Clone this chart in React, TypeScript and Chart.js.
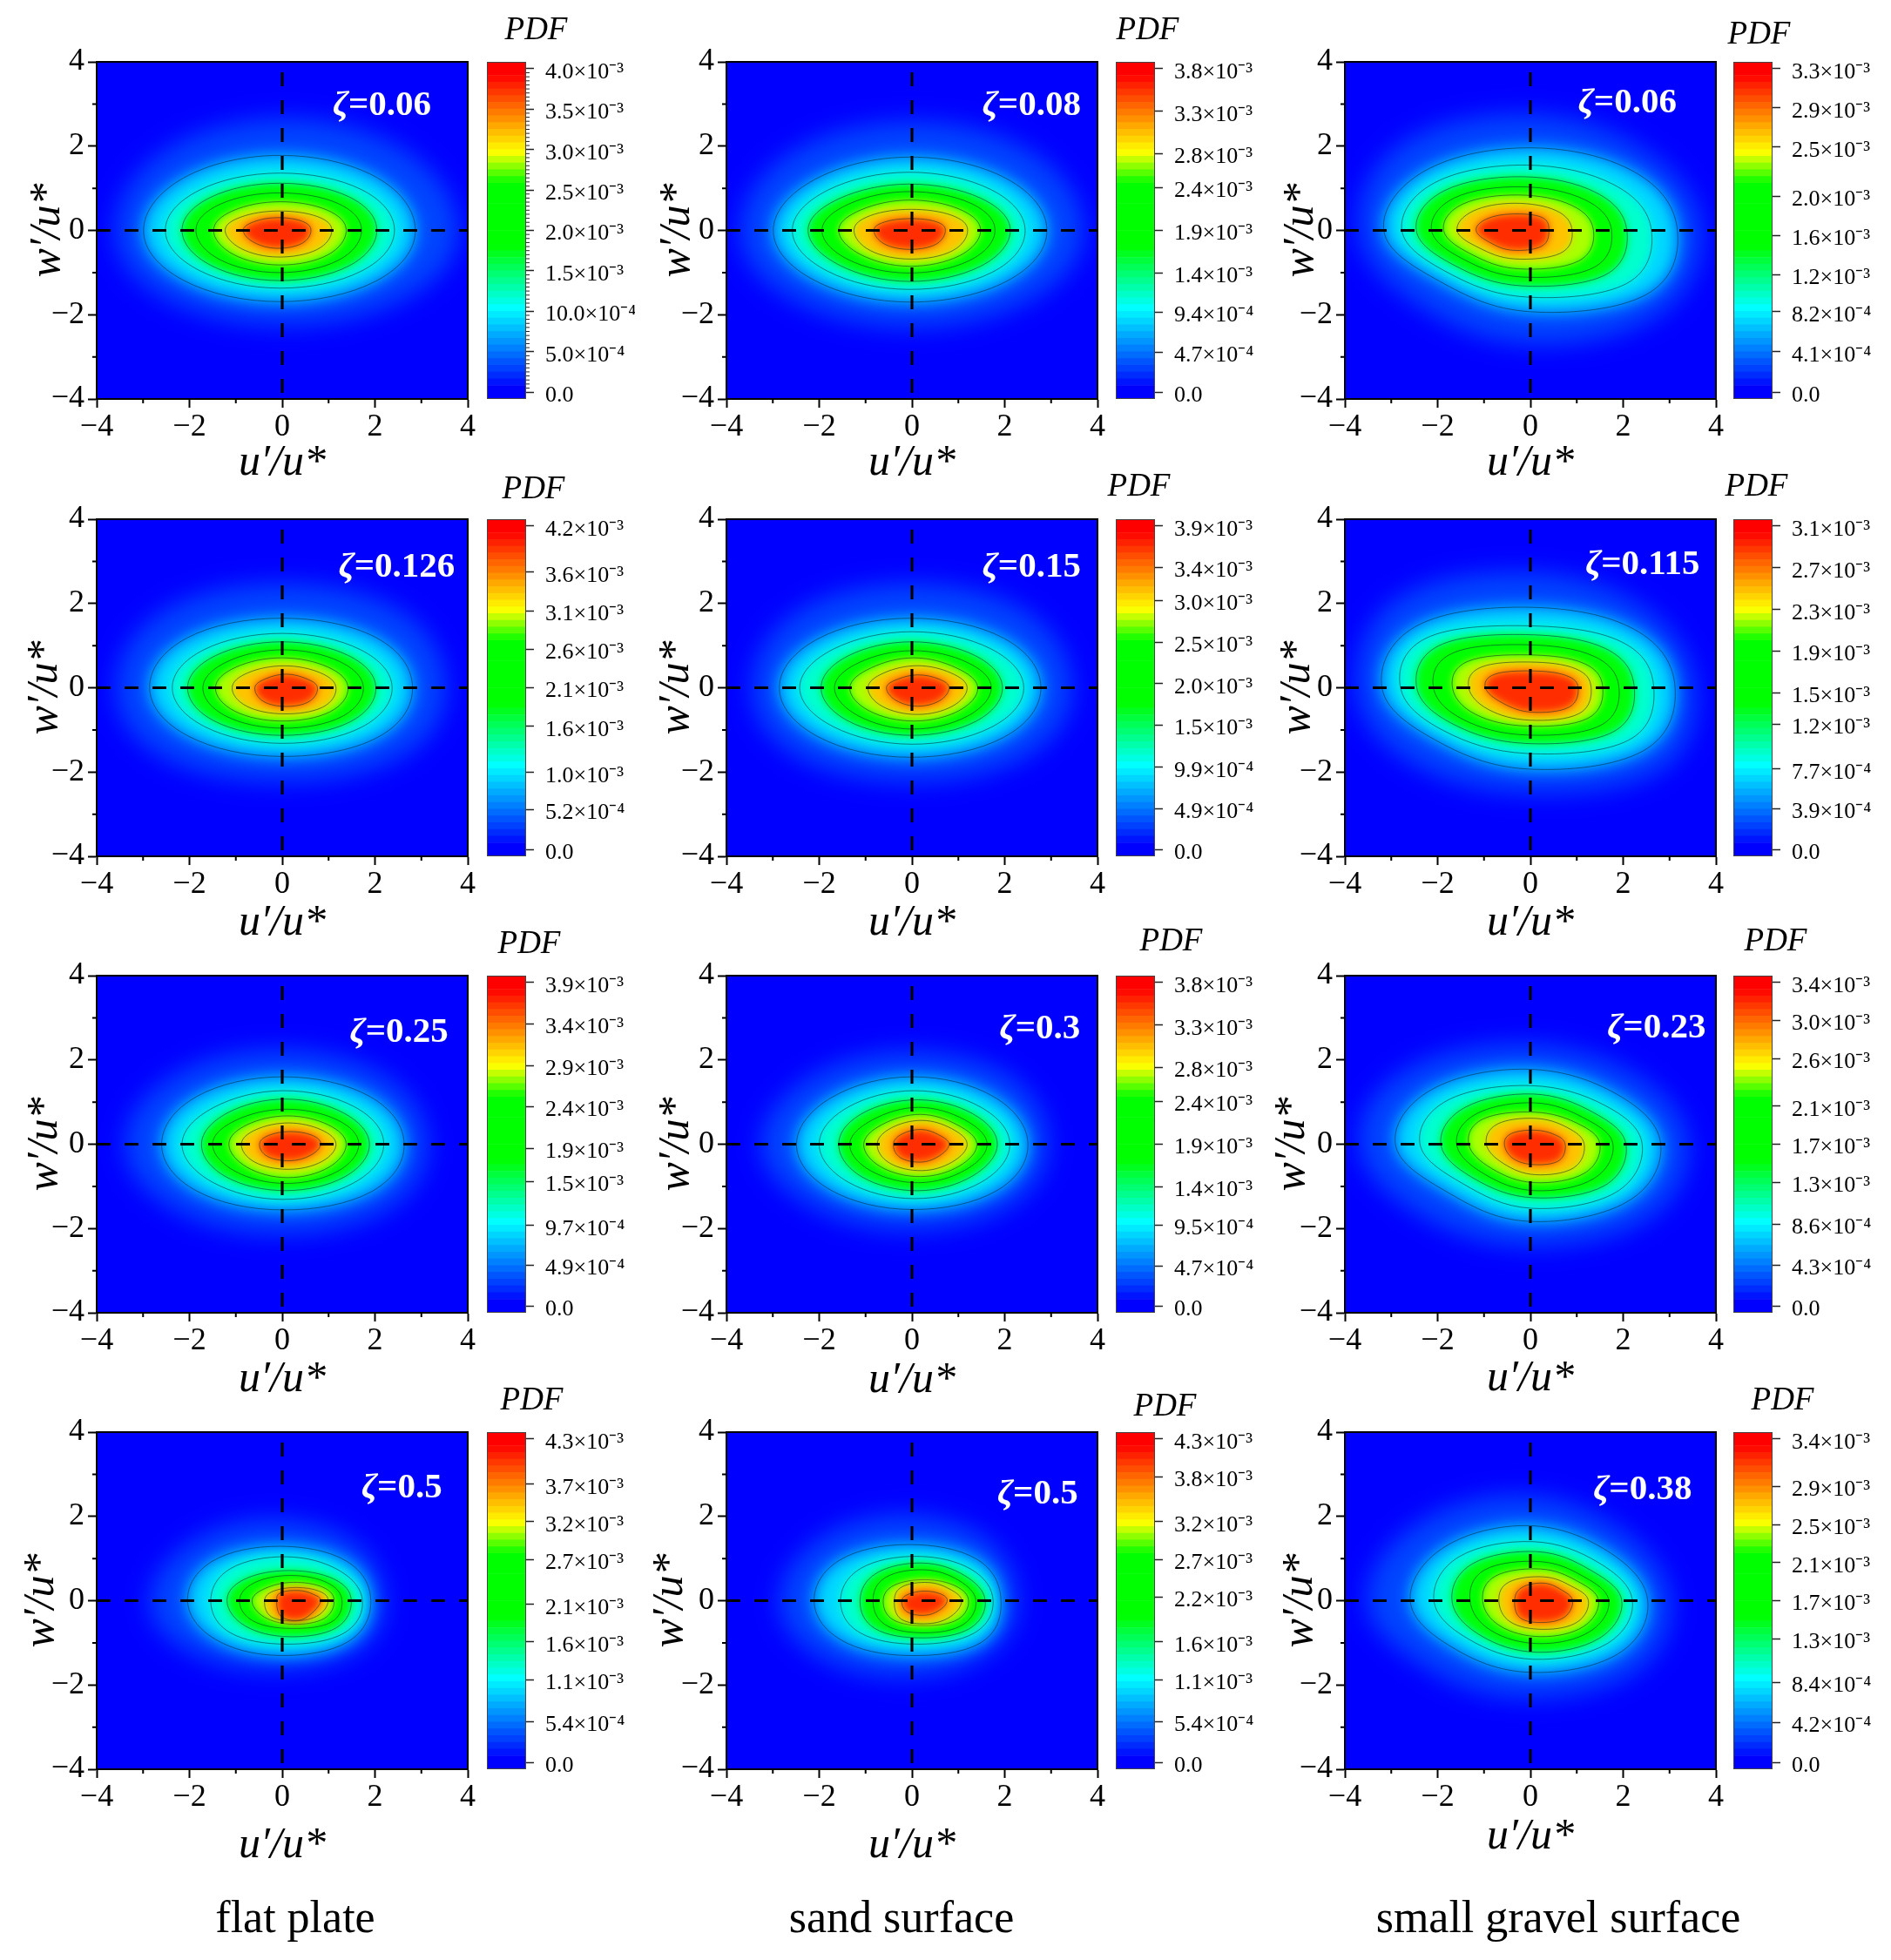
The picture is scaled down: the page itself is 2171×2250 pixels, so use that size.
import React, { useEffect, useRef } from "react";
import { Chart, registerables } from "chart.js";

// Contour radii from the origin along eight rays (E, NE, N, NW, W, SW, S, SE).
// First row is the visible edge of the halo, next rows the seven black contours.
const rays = [[1, 0], [1, 1], [0, 1], [-1, 1], [-1, 0], [-1, -1], [0, -1], [1, -1]];

const ringsFlat006 = [
  [3.8, 3.07, 2.65, 3.02, 3.6, 2.7, 2.25, 2.74], [2.87, 2.14, 1.78, 2.16, 2.99, 2.08, 1.69, 2.06],
  [2.42, 1.68, 1.36, 1.69, 2.52, 1.69, 1.37, 1.68], [2.04, 1.39, 1.12, 1.41, 2.16, 1.47, 1.19, 1.45],
  [1.71, 1.12, 0.89, 1.14, 1.86, 1.25, 1, 1.22], [1.38, 0.86, 0.68, 0.87, 1.48, 1.01, 0.82, 1],
  [1.07, 0.6, 0.46, 0.61, 1.23, 0.79, 0.63, 0.77], [0.62, 0.38, 0.3, 0.4, 0.84, 0.53, 0.42, 0.49],
];
const ringsSand008 = [
  [3.7, 3, 2.58, 3, 3.7, 2.75, 2.3, 2.75], [2.91, 2.1, 1.74, 2.1, 2.99, 2.07, 1.7, 2.07],
  [2.44, 1.68, 1.38, 1.7, 2.58, 1.72, 1.4, 1.72], [2.12, 1.36, 1.1, 1.37, 2.24, 1.47, 1.21, 1.47],
  [1.79, 1.15, 0.92, 1.15, 1.94, 1.25, 1.01, 1.23], [1.48, 0.9, 0.72, 0.9, 1.58, 1.03, 0.85, 1.03],
  [1.2, 0.66, 0.5, 0.66, 1.25, 0.85, 0.68, 0.85], [0.72, 0.38, 0.28, 0.38, 0.82, 0.57, 0.45, 0.55],
];
const ringsGravel006 = [
  [3.7, 3, 2.75, 3.3, 3.7, 2.85, 2.7, 3.25], [3.17, 2.36, 1.96, 2.4, 3.16, 2.05, 1.93, 2.6],
  [2.61, 1.85, 1.55, 2, 2.77, 1.75, 1.58, 2.15], [2.08, 1.5, 1.27, 1.7, 2.46, 1.5, 1.31, 1.85],
  [1.75, 1.22, 1.03, 1.42, 2.13, 1.27, 1.1, 1.6], [1.36, 0.97, 0.83, 1.18, 1.87, 1.06, 0.9, 1.28],
  [0.9, 0.7, 0.62, 0.9, 1.58, 0.8, 0.65, 0.95], [0.4, 0.4, 0.34, 0.55, 1.17, 0.52, 0.41, 0.55],
];
const ringsFlat0126 = [
  [3.53, 2.95, 2.47, 2.95, 3.58, 2.75, 2.22, 2.75], [2.81, 2.05, 1.65, 2.05, 2.86, 2, 1.63, 2.05],
  [2.37, 1.6, 1.29, 1.6, 2.37, 1.62, 1.32, 1.65], [2.02, 1.35, 1.09, 1.35, 2.04, 1.4, 1.13, 1.42],
  [1.75, 1.12, 0.9, 1.1, 1.71, 1.18, 0.96, 1.22], [1.42, 0.88, 0.71, 0.88, 1.44, 0.98, 0.79, 1],
  [1.16, 0.66, 0.52, 0.64, 1.08, 0.76, 0.62, 0.82], [0.76, 0.4, 0.32, 0.36, 0.59, 0.5, 0.44, 0.58],
];
const ringsSand015 = [
  [3.45, 2.9, 2.47, 2.9, 3.45, 2.7, 2.22, 2.7], [2.78, 2.02, 1.65, 2.02, 2.86, 2.02, 1.65, 2.02],
  [2.41, 1.63, 1.33, 1.62, 2.42, 1.63, 1.34, 1.65], [1.95, 1.33, 1.09, 1.33, 1.96, 1.37, 1.13, 1.38],
  [1.71, 1.08, 0.88, 1.06, 1.67, 1.16, 0.98, 1.18], [1.42, 0.85, 0.71, 0.83, 1.34, 0.94, 0.79, 0.97],
  [1.19, 0.66, 0.52, 0.6, 0.95, 0.72, 0.63, 0.8], [0.8, 0.4, 0.3, 0.33, 0.55, 0.45, 0.43, 0.56],
];
const ringsGravel0115 = [
  [3.56, 3, 2.74, 3.4, 3.75, 2.9, 2.49, 3.2], [3.12, 2.35, 1.91, 2.52, 3.2, 2.12, 1.93, 2.55],
  [2.66, 1.9, 1.47, 2.15, 2.8, 1.8, 1.56, 2.2], [2.24, 1.6, 1.26, 1.8, 2.45, 1.55, 1.32, 1.9],
  [1.91, 1.3, 1.02, 1.5, 2.09, 1.35, 1.12, 1.65], [1.56, 1.03, 0.78, 1.2, 1.68, 1.12, 0.91, 1.38],
  [1.31, 0.82, 0.61, 0.95, 1.33, 0.9, 0.77, 1.15], [1.03, 0.55, 0.4, 0.6, 0.97, 0.62, 0.58, 0.82],
];
const ringsFlat025 = [
  [3.14, 2.6, 2.24, 2.65, 3.39, 2.55, 2.13, 2.55], [2.63, 1.95, 1.6, 1.93, 2.6, 1.9, 1.56, 1.95],
  [2.19, 1.55, 1.27, 1.5, 2.16, 1.55, 1.31, 1.58], [1.88, 1.3, 1.07, 1.25, 1.74, 1.3, 1.1, 1.35],
  [1.65, 1.05, 0.83, 0.98, 1.5, 1.08, 0.93, 1.15], [1.38, 0.85, 0.67, 0.78, 1.15, 0.88, 0.79, 0.98],
  [1.16, 0.65, 0.5, 0.58, 0.88, 0.68, 0.59, 0.76], [0.83, 0.42, 0.29, 0.33, 0.49, 0.42, 0.38, 0.5],
];
const ringsSand03 = [
  [2.94, 2.55, 2.2, 2.55, 3.25, 2.4, 2.03, 2.4], [2.5, 1.9, 1.6, 1.87, 2.49, 1.85, 1.55, 1.9],
  [2.11, 1.52, 1.27, 1.48, 2, 1.5, 1.29, 1.55], [1.84, 1.28, 1.05, 1.2, 1.58, 1.25, 1.1, 1.32],
  [1.62, 1.05, 0.87, 0.95, 1.34, 1.02, 0.91, 1.1], [1.4, 0.85, 0.7, 0.75, 1.04, 0.83, 0.76, 0.95],
  [1.19, 0.7, 0.55, 0.58, 0.75, 0.65, 0.61, 0.78], [0.8, 0.43, 0.33, 0.33, 0.4, 0.4, 0.4, 0.52],
];
const ringsGravel023 = [
  [3.41, 2.65, 2.38, 2.95, 3.69, 2.7, 2.41, 2.9], [2.81, 2, 1.78, 2.22, 2.91, 1.9, 1.83, 2.28],
  [2.41, 1.6, 1.39, 1.8, 2.38, 1.55, 1.52, 1.95], [2.06, 1.33, 1.19, 1.48, 1.93, 1.35, 1.27, 1.68],
  [1.78, 1.1, 0.98, 1.22, 1.59, 1.15, 1.1, 1.42], [1.5, 0.9, 0.76, 1.02, 1.33, 0.95, 0.91, 1.2],
  [1.16, 0.72, 0.61, 0.78, 0.95, 0.72, 0.72, 0.98], [0.75, 0.42, 0.33, 0.42, 0.56, 0.5, 0.48, 0.7],
];
const ringsFlat05 = [
  [2.21, 2.05, 1.91, 2.25, 2.86, 2.05, 1.63, 1.9], [1.91, 1.55, 1.29, 1.6, 2.04, 1.55, 1.3, 1.6],
  [1.73, 1.25, 1.04, 1.25, 1.54, 1.25, 1.03, 1.35], [1.49, 0.95, 0.71, 0.85, 1.19, 0.95, 0.85, 1.15],
  [1.29, 0.8, 0.59, 0.68, 0.92, 0.75, 0.65, 0.95], [1.12, 0.62, 0.42, 0.45, 0.65, 0.55, 0.54, 0.8],
  [0.99, 0.45, 0.28, 0.3, 0.38, 0.42, 0.43, 0.66], [0.83, 0.3, 0.16, 0.15, 0.12, 0.22, 0.31, 0.48],
];
const ringsSand05 = [
  [2.28, 2.15, 2.02, 2.35, 2.86, 2.2, 1.8, 2], [1.92, 1.6, 1.33, 1.65, 2.11, 1.6, 1.3, 1.65],
  [1.75, 1.3, 1.05, 1.25, 1.54, 1.25, 1.03, 1.35], [1.58, 1.08, 0.88, 0.98, 1.12, 1, 0.87, 1.2],
  [1.38, 0.9, 0.71, 0.78, 0.84, 0.8, 0.74, 1.05], [1.22, 0.68, 0.47, 0.52, 0.62, 0.6, 0.56, 0.85],
  [1.07, 0.55, 0.38, 0.38, 0.38, 0.45, 0.48, 0.72], [0.76, 0.32, 0.19, 0.18, 0.22, 0.25, 0.29, 0.45],
];
const ringsGravel038 = [
  [3.03, 2.55, 2.5, 2.9, 3.53, 2.55, 2.29, 2.7], [2.53, 1.92, 1.78, 2.1, 2.59, 1.85, 1.7, 2.1],
  [2.2, 1.55, 1.4, 1.72, 2.08, 1.5, 1.39, 1.75], [1.97, 1.28, 1.16, 1.42, 1.69, 1.3, 1.22, 1.55],
  [1.69, 1.05, 0.92, 1.15, 1.3, 1.08, 1.01, 1.3], [1.47, 0.87, 0.74, 0.9, 1.03, 0.88, 0.84, 1.12],
  [1.25, 0.65, 0.54, 0.62, 0.68, 0.66, 0.65, 0.95], [0.91, 0.42, 0.37, 0.35, 0.34, 0.42, 0.46, 0.72],
];

const ticksFlat006 = ["0.0", "5.0e-4", "10.0e-4", "1.5e-3", "2.0e-3", "2.5e-3", "3.0e-3", "3.5e-3", "4.0e-3"];
const ticksSand008 = ["0.0", "4.7e-4", "9.4e-4", "1.4e-3", "1.9e-3", "2.4e-3", "2.8e-3", "3.3e-3", "3.8e-3"];
const ticksGravel006 = ["0.0", "4.1e-4", "8.2e-4", "1.2e-3", "1.6e-3", "2.0e-3", "2.5e-3", "2.9e-3", "3.3e-3"];
const ticksFlat0126 = ["0.0", "5.2e-4", "1.0e-3", "1.6e-3", "2.1e-3", "2.6e-3", "3.1e-3", "3.6e-3", "4.2e-3"];
const ticksSand015 = ["0.0", "4.9e-4", "9.9e-4", "1.5e-3", "2.0e-3", "2.5e-3", "3.0e-3", "3.4e-3", "3.9e-3"];
const ticksGravel0115 = ["0.0", "3.9e-4", "7.7e-4", "1.2e-3", "1.5e-3", "1.9e-3", "2.3e-3", "2.7e-3", "3.1e-3"];
const ticksFlat025 = ["0.0", "4.9e-4", "9.7e-4", "1.5e-3", "1.9e-3", "2.4e-3", "2.9e-3", "3.4e-3", "3.9e-3"];
const ticksSand03 = ["0.0", "4.7e-4", "9.5e-4", "1.4e-3", "1.9e-3", "2.4e-3", "2.8e-3", "3.3e-3", "3.8e-3"];
const ticksGravel023 = ["0.0", "4.3e-4", "8.6e-4", "1.3e-3", "1.7e-3", "2.1e-3", "2.6e-3", "3.0e-3", "3.4e-3"];
const ticksFlat05 = ["0.0", "5.4e-4", "1.1e-3", "1.6e-3", "2.1e-3", "2.7e-3", "3.2e-3", "3.7e-3", "4.3e-3"];
const ticksSand05 = ["0.0", "5.4e-4", "1.1e-3", "1.6e-3", "2.2e-3", "2.7e-3", "3.2e-3", "3.8e-3", "4.3e-3"];
const ticksGravel038 = ["0.0", "4.2e-4", "8.4e-4", "1.3e-3", "1.7e-3", "2.1e-3", "2.5e-3", "2.9e-3", "3.4e-3"];

const zetaTexts = ["0.06", "0.08", "0.06", "0.126", "0.15", "0.115", "0.25", "0.3", "0.23", "0.5", "0.5", "0.38"];
const captions = ["flat plate", "sand surface", "small gravel surface"];
const axisTicksMinor = [-3, -1, 1, 3];
const crossU = [-4, 4];
const crossW = [3.75, -4];

const panelRings = [ringsFlat006, ringsSand008, ringsGravel006, ringsFlat0126, ringsSand015, ringsGravel0115, ringsFlat025, ringsSand03, ringsGravel023, ringsFlat05, ringsSand05, ringsGravel038];
const panelTicks = [ticksFlat006, ticksSand008, ticksGravel006, ticksFlat0126, ticksSand015, ticksGravel0115, ticksFlat025, ticksSand03, ticksGravel023, ticksFlat05, ticksSand05, ticksGravel038];

// colour of the band just inside each ring
const bandColors = ["rgb(0,70,255)", "rgb(0,218,255)", "rgb(0,255,205)", "rgb(0,255,10)", "rgb(0,255,0)", "rgb(170,255,0)", "rgb(255,195,0)", "rgb(255,45,0)"];
const ringBlur = [14, 9, 6, 5, 4, 4, 4, 5];
// colour bar stops: fraction of bar height, r, g, b
const barStops = [[0, 0, 0, 255], [0.03, 0, 0, 255], [0.269, 0, 255, 255], [0.453, 0, 255, 0], [0.638, 0, 255, 0], [0.732, 255, 255, 0], [0.96, 255, 0, 0], [1, 255, 0, 0]];
const barBandCount = 50;

// ---- layout ----------------------------------------------------------------
const colLeft = [111, 834, 1544];
const rowTop = [71, 596, 1120, 1644];
const barLeft = [559, 1281, 1990];
const PW = 426, PH = 387, BW = 45;
const AXW = 100, AXH = 120, MT = 30, MR = 16, BAR_TOP = 60, BAR_RIGHT = 125, BAR_LEFT = 40;
const zetaPos = [[2.15, 2.96], [2.58, 2.96], [2.09, 3.02], [2.47, 2.85], [2.58, 2.85], [2.42, 2.91], [2.52, 2.64], [2.76, 2.73], [2.72, 2.76], [2.58, 2.67], [2.71, 2.52], [2.42, 2.63]];
const yTitleGap = [56, 56, 50, 59, 57, 54, 59, 57, 60, 63, 64, 51];
const xTitleGap = [74, 74, 74, 77, 77, 77, 77, 78, 76, 88, 88, 78];
const pdfOffset = [[34, 36], [14, 36], [7, 31], [31, 34], [4, 37], [4, 37], [26, 36], [41, 39], [26, 39], [29, 36], [34, 29], [34, 36]];
const captionX = [339, 1035, 1789];
const FONT = '"Liberation Serif", serif';
const TITLE_SIZE = 50;

// ---- plugins ---------------------------------------------------------------
const ringBlurOn = {
  id: "ringBlurOn",
  beforeDatasetDraw(chart: any, args: any) {
    const b = chart.data.datasets[args.index]?.blurPx;
    if (b) chart.ctx.filter = `blur(${b}px)`;
  },
};
const ringBlurOff = {
  id: "ringBlurOff",
  beforeDatasetDraw(chart: any) {
    chart.ctx.filter = "none";
  },
};
Chart.register(ringBlurOn);
Chart.register(...registerables);
Chart.register(ringBlurOff);

const signed = (v: number) => (v < 0 ? "\u2212" + -v : String(v));
const SUP: Record<string, string> = { "-": "\u207B", "3": "\u00B3", "4": "\u2074" };
function tickText(s: string) {
  const [m, e] = s.split("e");
  return e ? `${m}\u00D710${e.split("").map((c) => SUP[c]).join("")}` : m;
}
function barColor(f: number) {
  for (let i = 1; i < barStops.length; i++) {
    if (f <= barStops[i][0]) {
      const a = barStops[i - 1], b = barStops[i];
      const t = (f - a[0]) / (b[0] - a[0] || 1);
      return `rgb(${[1, 2, 3].map((k) => Math.round(a[k] + (b[k] - a[k]) * t)).join(",")})`;
    }
  }
  return "rgb(255,0,0)";
}
// Place the eight read radii on a closed contour. The axis readings give the ring's
// horizontal centre and semi-axes; each diagonal reading sets how far that quadrant
// bulges beyond the ellipse through those readings.
function ringPoints(radii: number[]) {
  const E = radii[0], W = radii[4];
  const cx = (E - W) / 2, a = (E + W) / 2;
  const lift = Math.sqrt(Math.max(0.2, 1 - (cx * cx) / (a * a)));
  const bN = radii[2] / lift, bS = radii[6] / lift;
  const d = 0.7071;
  const pts = radii.map((r, i) => {
    const [dx, dy] = rays[i];
    if (i === 0 || i === 4) return { x: r * dx, y: 0 };
    if (i === 2) return { x: cx, y: bN };
    if (i === 6) return { x: cx, y: -bS };
    const b = dy > 0 ? bN : bS;
    const A = (d * d) / (a * a) + (d * d) / (b * b);
    const B = (-2 * cx * d * dx) / (a * a);
    const C = (cx * cx) / (a * a) - 1;
    const t = (-B + Math.sqrt(B * B - 4 * A * C)) / (2 * A);
    const s = Math.min(1.13, Math.max(0.87, r / t));
    return { x: cx + d * a * s * dx, y: d * b * s * dy };
  });
  pts.push(pts[0]);
  return pts;
}

function makePlot(canvas: HTMLCanvasElement, i: number) {
  const rings = panelRings[i];
  const ringSets = rings.map((radii, k) => ({
    data: ringPoints(radii),
    showLine: true,
    tension: 0.38,
    pointRadius: 0,
    fill: "shape",
    backgroundColor: bandColors[k],
    borderColor: k === 0 ? "transparent" : "rgba(10,40,50,0.55)",
    borderWidth: k === 0 ? 0 : 1,
    blurPx: ringBlur[k],
  })).reverse();
  const dash = { showLine: true, pointRadius: 0, fill: false, borderColor: "#000", borderWidth: 3.2, borderDash: [16, 16], tension: 0 };
  const datasets: any[] = [
    { ...dash, data: crossU.map((u) => ({ x: u, y: 0 })) },
    { ...dash, data: crossW.map((w) => ({ x: 0, y: w })) },
    ...ringSets,
  ];
  const titleFont = { family: FONT, size: TITLE_SIZE, style: "italic" };
  const lh = TITLE_SIZE * 1.2;
  const axisCommon = (cb: any) => ({
    type: "linear", min: -4, max: 4,
    border: { display: true, color: "#000", width: 2 },
    grid: { drawOnChartArea: false, drawTicks: true, tickLength: 10, tickColor: "#000", tickWidth: 2 },
    ...cb,
  });
  const paint = {
    id: "paint",
    afterDatasetsUpdate(c: any) {
      // closed, seamless spline through each contour
      c.getSortedVisibleDatasetMetas().forEach((meta: any) => {
        if (!c.data.datasets[meta.index].blurPx) return;
        const p = meta.data, n = p.length - 1, k = 0.1875;
        for (let j = 0; j <= n; j++) {
          const a = p[(j - 1 + n) % n], b = p[(j + 1) % n], q = p[j % n];
          p[j].cp1x = q.x - k * (b.x - a.x); p[j].cp1y = q.y - k * (b.y - a.y);
          p[j].cp2x = q.x + k * (b.x - a.x); p[j].cp2y = q.y + k * (b.y - a.y);
        }
        meta.dataset._pointsUpdated = true;
      });
    },
    beforeDatasetsDraw(c: any) {
      const a = c.chartArea, ctx = c.ctx;
      ctx.save();
      ctx.fillStyle = "#0000ff";
      ctx.fillRect(a.left, a.top, a.right - a.left, a.bottom - a.top);
      ctx.restore();
    },
    afterDraw(c: any) {
      const a = c.chartArea, ctx = c.ctx, sx = c.scales.x, sy = c.scales.y;
      ctx.save();
      ctx.strokeStyle = "#000";
      ctx.lineWidth = 2;
      ctx.strokeRect(a.left, a.top, a.right - a.left, a.bottom - a.top);
      ctx.beginPath();
      for (const v of axisTicksMinor) {
        const px = sx.getPixelForValue(v), py = sy.getPixelForValue(v);
        ctx.moveTo(px, a.bottom); ctx.lineTo(px, a.bottom + 5);
        ctx.moveTo(a.left, py); ctx.lineTo(a.left - 5, py);
      }
      ctx.stroke();
      const [zu, zw] = zetaPos[i];
      const zx = sx.getPixelForValue(zu), zy = sy.getPixelForValue(zw);
      ctx.fillStyle = "#fff";
      ctx.textBaseline = "middle";
      ctx.textAlign = "left";
      const rest = "=" + zetaTexts[i];
      ctx.font = `italic bold 41px ${FONT}`;
      const w1 = ctx.measureText("\u03B6").width;
      ctx.font = `bold 41px ${FONT}`;
      const w2 = ctx.measureText(rest).width;
      const x0 = zx - (w1 + w2) / 2;
      ctx.font = `italic bold 41px ${FONT}`;
      ctx.fillText("\u03B6", x0, zy);
      ctx.font = `bold 41px ${FONT}`;
      ctx.fillText(rest, x0 + w1, zy);
      ctx.restore();
    },
  };
  return new Chart(canvas, {
    type: "scatter",
    data: { datasets },
    plugins: [paint],
    options: {
      animation: false, responsive: false, devicePixelRatio: 1, events: [],
      layout: { autoPadding: false, padding: { left: 0, top: MT, right: MR, bottom: 0 } },
      plugins: { legend: { display: false }, tooltip: { enabled: false } },
      scales: {
        x: axisCommon({
          position: "bottom",
          afterFit: (s: any) => { s.height = AXH; },
          ticks: { stepSize: 2, maxRotation: 0, autoSkip: false, padding: 1, color: "#000", font: { family: FONT, size: 36 }, callback: signed },
          title: { display: true, text: "u\u2032/u*", color: "#000", font: titleFont, padding: { top: 0, bottom: AXH - xTitleGap[i] - lh / 2 } },
        }),
        y: axisCommon({
          position: "left",
          afterFit: (s: any) => { s.width = AXW; },
          ticks: { stepSize: 2, autoSkip: false, padding: 4, color: "#000", font: { family: FONT, size: 36 }, callback: signed },
          title: { display: true, text: "w\u2032/u*", color: "#000", font: titleFont, padding: { top: AXW - yTitleGap[i] - lh / 2, bottom: 0 } },
        }),
      },
    },
  } as any);
}

function makeBar(canvas: HTMLCanvasElement, i: number) {
  const labels = panelTicks[i];
  const values = labels.map(Number);
  const top = values[8];
  const step = top / 8;
  const lo = -0.17 * step, hi = top + 0.17 * step;
  const datasets: any[] = [];
  for (let b = 0; b < barBandCount; b++) {
    const f0 = b / barBandCount, f1 = (b + 1) / barBandCount;
    datasets.push({
      data: [[lo + (hi - lo) * f0, lo + (hi - lo) * f1]],
      backgroundColor: barColor((f0 + f1) / 2),
      grouped: false, barPercentage: 1, categoryPercentage: 1, borderWidth: 0,
    });
  }
  const paint = {
    id: "paintBar",
    afterDraw(c: any) {
      const a = c.chartArea, ctx = c.ctx, sy = c.scales.y;
      ctx.save();
      ctx.strokeStyle = "#444";
      ctx.lineWidth = 1;
      ctx.strokeRect(a.left + 0.5, a.top + 0.5, a.right - a.left - 1, a.bottom - a.top - 1);
      if (i === 0) {
        ctx.strokeStyle = "#222";
        ctx.beginPath();
        for (let t = 0; t < 8; t++) for (let m = 1; m < 10; m++) {
          const y = sy.getPixelForValue(values[t] + (values[t + 1] - values[t]) * m / 10);
          ctx.moveTo(a.right, y); ctx.lineTo(a.right + 4, y);
        }
        ctx.stroke();
      }
      ctx.fillStyle = "#000";
      ctx.font = `italic 37px ${FONT}`;
      ctx.textAlign = "center";
      ctx.textBaseline = "middle";
      ctx.fillText("PDF", BAR_LEFT + BW / 2 + pdfOffset[i][0], BAR_TOP - pdfOffset[i][1]);
      ctx.restore();
    },
  };
  return new Chart(canvas, {
    type: "bar",
    data: { labels: ["PDF"], datasets },
    plugins: [paint],
    options: {
      animation: false, responsive: false, devicePixelRatio: 1, events: [],
      layout: { autoPadding: false, padding: { left: BAR_LEFT, top: BAR_TOP, right: 0, bottom: 14 } },
      plugins: { legend: { display: false }, tooltip: { enabled: false } },
      scales: {
        x: { display: false },
        y: {
          position: "right", min: lo, max: hi,
          afterFit: (s: any) => { s.width = BAR_RIGHT; s.paddingTop = 0; s.paddingBottom = 0; },
          afterBuildTicks: (s: any) => { s.ticks = values.map((v) => ({ value: v })); },
          border: { display: false },
          grid: { drawOnChartArea: false, drawTicks: true, tickLength: 9, tickColor: "#222", tickWidth: 1.5 },
          ticks: {
            autoSkip: false, padding: 13, labelOffset: 4, color: "#000", font: { family: FONT, size: 26 },
            callback: (v: number) => tickText(labels[values.indexOf(v)]),
          },
        },
      },
    },
  } as any);
}

export default function App() {
  const plotRefs = useRef<(HTMLCanvasElement | null)[]>([]);
  const barRefs = useRef<(HTMLCanvasElement | null)[]>([]);
  useEffect(() => {
    const charts: any[] = [];
    for (let i = 0; i < 12; i++) {
      charts.push(makeBar(barRefs.current[i]!, i));
      charts.push(makePlot(plotRefs.current[i]!, i));
    }
    return () => charts.forEach((c) => c.destroy());
  }, []);
  const idx = Array.from({ length: 12 }, (_, i) => i);
  return (
    <div style={{ position: "absolute", left: 0, top: 0, width: 2171, height: 2250, background: "#fff", overflow: "hidden" }}>
      {idx.map((i) => {
        const c = i % 3, r = Math.floor(i / 3);
        const bw = BAR_LEFT + BW + BAR_RIGHT, bh = BAR_TOP + PH + 14;
        return (
          <React.Fragment key={i}>
            <canvas
              ref={(el) => { barRefs.current[i] = el; }}
              width={bw}
              height={bh}
              style={{ position: "absolute", left: barLeft[c] - BAR_LEFT, top: rowTop[r] - BAR_TOP, width: bw, height: bh }}
            />
            <canvas
              ref={(el) => { plotRefs.current[i] = el; }}
              width={AXW + PW + MR}
              height={MT + PH + AXH}
              style={{ position: "absolute", left: colLeft[c] - AXW, top: rowTop[r] - MT, width: AXW + PW + MR, height: MT + PH + AXH }}
            />
          </React.Fragment>
        );
      })}
      {captions.map((t, i) => (
        <div key={t} style={{ position: "absolute", left: captionX[i] - 300, width: 600, top: 2175, textAlign: "center", font: `52px/1 ${FONT}`, color: "#000" }}>{t}</div>
      ))}
    </div>
  );
}
